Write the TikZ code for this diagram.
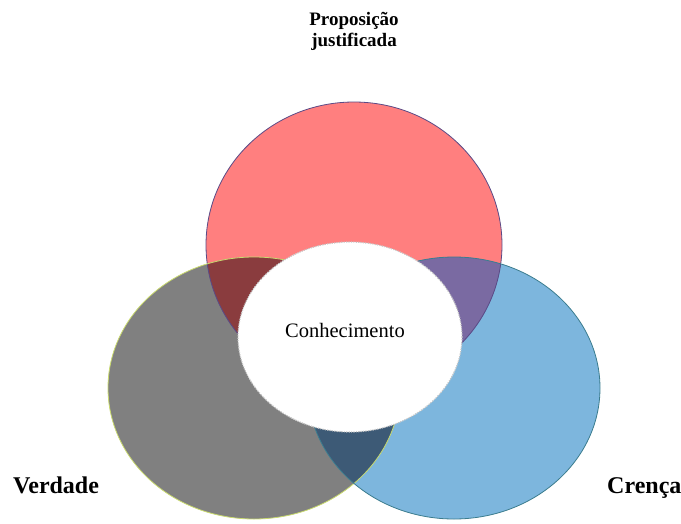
\documentclass[tikz,border=0pt]{standalone}
\usepackage{fontspec}
\setmainfont{Liberation Serif}
\usetikzlibrary{shapes.geometric}
\definecolor{cRed}{HTML}{FF7F7F}
\definecolor{cGray}{HTML}{808080}
\definecolor{cBlue}{HTML}{7DB6DD}
\definecolor{cRG}{HTML}{8A3C3E}
\definecolor{cRB}{HTML}{7A6AA2}
\definecolor{cGB}{HTML}{3D5A76}
\definecolor{bRed}{HTML}{5A4A86}
\definecolor{bGray}{HTML}{C9DA6E}
\definecolor{bBlue}{HTML}{3B7C8E}
\begin{document}
\begin{tikzpicture}[x=1pt,y=-1pt,
  lbl/.style={font=\bfseries\fontsize{24}{26}\selectfont, inner sep=0pt},
  ring/.style={line width=0.8pt}]
\useasboundingbox (0,0) rectangle (681,523);
% circles
\fill[cRed] (354,245) ellipse [x radius=148, y radius=143];
\fill[cGray] (254,388) ellipse [x radius=146, y radius=131];
\fill[cBlue] (454,388) ellipse [x radius=146, y radius=131];
% overlaps
\begin{scope}
  \clip (354,245) ellipse [x radius=148, y radius=143];
  \fill[cRG] (254,388) ellipse [x radius=146, y radius=131];
  \fill[cRB] (454,388) ellipse [x radius=146, y radius=131];
\end{scope}
\begin{scope}
  \clip (254,388) ellipse [x radius=146, y radius=131];
  \fill[cGB] (454,388) ellipse [x radius=146, y radius=131];
\end{scope}
% borders
\draw[ring, bRed] (354,245) ellipse [x radius=148, y radius=143];
\draw[ring, bGray] (254,388) ellipse [x radius=146, y radius=131];
\draw[ring, bBlue] (454,388) ellipse [x radius=146, y radius=131];
% center
\node (k) [ellipse, minimum width=224pt, minimum height=190pt, inner sep=0pt, fill=white,
  draw=black!22, line width=1.2pt, dash pattern=on 1.2pt off 1.2pt] at (350,337) {};
\node (kt) [anchor=base, inner sep=0pt, font=\fontsize{20.5}{22}\selectfont] at (345,337) {Conhecimento};
% labels
\node (pj) [align=center, inner sep=0pt, font=\bfseries\fontsize{19}{21}\selectfont] at (354,31) {Proposição\\justificada};
\node (v) [lbl, anchor=base west] at (13,493) {Verdade};
\node (c) [lbl, anchor=base west] at (607,493) {Crença};
\end{tikzpicture}
\end{document}
